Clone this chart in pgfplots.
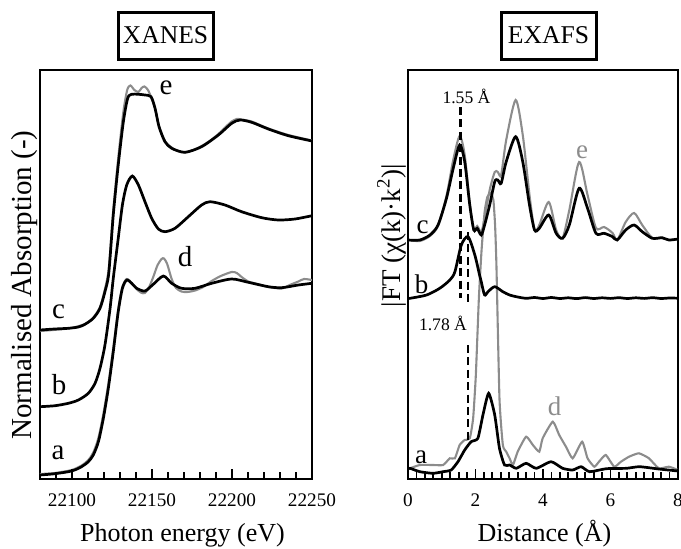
\documentclass[border=0pt]{standalone}
\usepackage{pgfplots}
\pgfplotsset{compat=1.18}
\usepackage{fontspec}
\setmainfont{Liberation Serif}
\definecolor{lg}{gray}{0.55}

\begin{document}
\begin{tikzpicture}
\useasboundingbox (0,0) rectangle (340.5pt,274pt);
\pgfplotsset{
 common/.style={
  scale only axis, height=204.5pt, anchor=south west,
  ymin=-479, ymax=-70, ytick=\empty,
  axis line style={line width=1.4pt},
  tick align=inside, xtick pos=left,
  major tick length=0pt, minor tick length=0pt,
  tick label style={font=\fontsize{9.6}{11}\selectfont},
  /pgf/number format/assume math mode=true,
  /pgf/number format/1000 sep={},
  scaled x ticks=false,
  xticklabel style={yshift=-3.8pt},
  unbounded coords=jump,
 },
 blk/.style={black, line width=1.35pt, smooth, tension=0.45, mark=none},
 gry/.style={lg, line width=1.05pt, smooth, tension=0.45, mark=none},
 tk/.style={black, line width=0.9pt, mark=none},
}

% ---------------- XANES ----------------
\begin{axis}[common, at={(20pt,34.5pt)}, width=136pt,
  xmin=22080, xmax=22250,
  xtick={22100,22150,22200,22250}]
% e (grey)
\addplot[gry] coordinates {
(22080,-331) (22097.7,-328.5) (22108.1,-324) (22113.3,-317.5) (22117.5,-307) (22120.6,-289)
(22123,-268) (22125.8,-210) (22128.9,-158) (22132.1,-112) (22134.5,-90) (22136.5,-85.5)
(22139,-90) (22141.5,-92) (22143.5,-88) (22145.3,-86.5) (22147.5,-90) (22149.4,-97)
(22151.9,-108.3) (22154.4,-126) (22158.1,-141) (22162.3,-147.5) (22166,-151) (22170.6,-152.5)
(22176,-150) (22181,-146) (22186,-141) (22191.5,-134) (22196,-127) (22199.8,-121.5)
(22203,-119) (22206,-119.5) (22212.3,-121.5) (22222.7,-128.5) (22235.2,-135) (22250,-140.5)};
% d (grey)
\addplot[gry] coordinates {
(22080,-474) (22089.4,-473) (22099.8,-470) (22106,-465.5) (22110.2,-460) (22113.3,-452.5)
(22116.5,-438) (22119.6,-414) (22122.7,-384) (22125.8,-348) (22128.9,-309) (22131.5,-287)
(22134.2,-279) (22137.3,-283) (22140.4,-289) (22143,-292.5) (22145.6,-293) (22148.5,-286)
(22151,-276) (22153.5,-265) (22156,-259) (22157.5,-258.5) (22159.5,-264) (22162.3,-279)
(22165,-288) (22168.5,-291.5) (22172,-292) (22176.9,-290.5) (22182,-287) (22187.3,-281)
(22193,-276) (22199.8,-272) (22203,-273) (22206,-277) (22210.2,-281.5) (22216,-284)
(22222.7,-287) (22231,-288.5) (22236,-285) (22241.5,-281.5) (22245,-279) (22250,-280)};
% c
\addplot[blk] coordinates {
(22080,-330) (22089,-329) (22097.7,-328.3) (22104,-327) (22108.1,-324.3) (22113.3,-318.3)
(22117.5,-308.3) (22120.6,-291.7) (22123,-273) (22125.8,-215) (22128.9,-165) (22132.1,-121.7)
(22134.8,-98.3) (22137.3,-94.3) (22141.5,-94.3) (22145.6,-95) (22149.4,-96.7) (22151.9,-108.3)
(22154.4,-126.7) (22158.1,-141.7) (22162.3,-148.3) (22170.6,-152.3) (22181,-146.7)
(22191.5,-135) (22199.8,-123.3) (22205,-120) (22212.3,-122.3) (22222.7,-129) (22235.2,-135.7)
(22250,-141)};
% b
\addplot[blk] coordinates {
(22080,-406.7) (22089.4,-405.7) (22097.7,-403.3) (22104,-400) (22110.2,-393.3) (22114.4,-383.3)
(22117.5,-368.3) (22120.6,-345) (22123.8,-308.3) (22125.8,-278.3) (22128.9,-238.3)
(22131.5,-205) (22134.2,-185) (22137.7,-176) (22141.5,-185) (22145.6,-201.7) (22149.8,-218.3)
(22154,-229) (22158.1,-231.7) (22164.4,-228.3) (22172.7,-216.7) (22181,-205) (22186.3,-201.7)
(22195.6,-205) (22206,-211.7) (22218.6,-217.7) (22229,-220) (22239.4,-219) (22250,-215.7)};
% a
\addplot[blk] coordinates {
(22080,-475) (22089.4,-473.7) (22099.8,-471) (22106,-466.7) (22110.2,-461.7) (22113.3,-455)
(22116.5,-441.7) (22119.6,-418.3) (22122.7,-388.3) (22125.8,-351.7) (22128.9,-311.7)
(22131.5,-288.3) (22134.2,-280) (22137.3,-283.3) (22140.4,-288.3) (22145.6,-291)
(22150.8,-284.3) (22157.1,-276) (22162.3,-283.3) (22168.5,-288.3) (22176.9,-288.3)
(22187.3,-283.3) (22199.8,-279) (22210.2,-282.3) (22222.7,-286.7) (22231,-287.7)
(22241.5,-285) (22250,-283.3)};
% tick marks along the bottom, pointing inwards
\addplot[tk] coordinates {
(22100,-479) (22100,-469) (22100,nan)
(22150,-479) (22150,-469) (22150,nan)
(22200,-479) (22200,-469) (22200,nan)
(22250,-479) (22250,-469) (22250,nan)
(22090,-479) (22090,-472.4) (22090,nan)
(22110,-479) (22110,-472.4) (22110,nan)
(22120,-479) (22120,-472.4) (22120,nan)
(22130,-479) (22130,-472.4) (22130,nan)
(22140,-479) (22140,-472.4) (22140,nan)
(22160,-479) (22160,-472.4) (22160,nan)
(22170,-479) (22170,-472.4) (22170,nan)
(22180,-479) (22180,-472.4) (22180,nan)
(22190,-479) (22190,-472.4) (22190,nan)
(22210,-479) (22210,-472.4) (22210,nan)
(22220,-479) (22220,-472.4) (22220,nan)
(22230,-479) (22230,-472.4) (22230,nan)
(22240,-479) (22240,-472.4)};
\end{axis}

% ---------------- EXAFS ----------------
\begin{axis}[common, at={(204pt,34.5pt)}, width=135pt,
  xmin=0, xmax=8,
  xtick={0,2,4,6,8}]
% e (grey)
\addplot[gry] coordinates {
(0,-240) (0.35,-241) (0.65,-236) (0.89,-226) (1.14,-196) (1.34,-160) (1.53,-136) (1.68,-155)
(1.83,-203) (1.95,-230) (2.05,-226) (2.17,-232) (2.27,-218) (2.42,-190) (2.57,-172) (2.66,-172)
(2.76,-175) (2.91,-140) (3.19,-100) (3.40,-135) (3.60,-195) (3.75,-230) (3.89,-225) (4.17,-202)
(4.39,-230) (4.58,-238) (4.78,-210) (5.07,-162) (5.32,-195) (5.57,-228) (5.81,-227) (6.06,-233)
(6.20,-240) (6.45,-222) (6.70,-213) (6.94,-225) (7.24,-238) (7.53,-238) (7.73,-240) (8,-239)};
% d (grey)
\addplot[gry, tension=0.3] coordinates {
(0.06,-468.3) (0.35,-465) (0.74,-465) (1.04,-465) (1.24,-458.3) (1.39,-458.3) (1.53,-445)
(1.68,-440) (1.83,-438.3) (1.93,-418.3) (2.01,-375) (2.10,-298.3) (2.18,-250) (2.27,-212)
(2.35,-197) (2.45,-193) (2.53,-200) (2.58,-225) (2.62,-265) (2.71,-398.3) (2.81,-445)
(2.91,-451.7) (3.01,-458.3) (3.11,-465) (3.25,-451.7) (3.50,-436.7) (3.70,-445) (3.89,-451.7)
(3.99,-438.3) (4.29,-421.7) (4.48,-435) (4.68,-446.7) (4.88,-458.3) (5.16,-441.7) (5.32,-458.3)
(5.52,-466.7) (5.66,-461.7) (5.86,-455) (6.11,-466.7) (6.31,-461.7) (6.55,-456.7) (6.84,-453.3)
(7.14,-458.3) (7.43,-468.3) (7.73,-466.7) (8,-470)};
% dashed guide lines
\addplot[black, line width=1.3pt, dash pattern=on 4pt off 2.2pt, mark=none] coordinates {(1.55,-107) (1.55,-298)};
\addplot[black, line width=1.3pt, dash pattern=on 4pt off 2.2pt, mark=none] coordinates {(1.78,-232) (1.78,-303)};
\addplot[black, line width=1.3pt, dash pattern=on 4pt off 2.2pt, mark=none] coordinates {(1.78,-345) (1.78,-447)};
% c
\addplot[blk] coordinates {
(0,-240) (0.35,-240) (0.65,-235) (0.89,-225) (1.14,-198.3) (1.34,-168.3) (1.53,-145) (1.68,-161.7)
(1.83,-205) (1.95,-230) (2.05,-228.3) (2.17,-235) (2.27,-225) (2.42,-205) (2.57,-181.7)
(2.66,-180) (2.76,-183.3) (2.91,-161.7) (3.19,-136.7) (3.40,-161.7) (3.60,-205) (3.75,-230)
(3.89,-228.3) (4.17,-215) (4.39,-233.3) (4.58,-238.3) (4.78,-225) (5.07,-188.3) (5.32,-208.3)
(5.57,-233.3) (5.81,-233.3) (6.06,-236.7) (6.20,-240) (6.45,-230) (6.70,-225) (6.94,-231.7)
(7.24,-238.3) (7.53,-237.7) (7.73,-240) (8,-239)};
% b
\addplot[blk] coordinates {
(0,-298.5) (0.06,-298.3) (0.55,-295) (0.94,-288.3) (1.24,-280) (1.39,-271.7) (1.58,-245)
(1.78,-236.7) (1.98,-255) (2.12,-275) (2.17,-281.7) (2.27,-295) (2.37,-291.7) (2.57,-286.7)
(2.81,-291.7) (3.01,-295) (3.25,-297) (3.50,-298.3) (3.75,-297.5) (4.0,-298.5) (4.25,-297.5)
(4.5,-298.5) (4.75,-297.8) (5.0,-298.6) (5.25,-297.6) (5.5,-298.5) (5.75,-297.8) (6.0,-298.4)
(6.25,-297.7) (6.5,-298.5) (6.75,-297.8) (7.0,-298.4) (7.25,-297.7) (7.5,-298.5) (7.75,-298) (8,-298.2)};
% a
\addplot[blk, tension=0.35] coordinates {
(0,-469) (0.06,-468.3) (0.35,-471.7) (0.74,-473.3) (1.04,-471.7) (1.28,-470) (1.48,-461.7)
(1.68,-450) (1.87,-441.7) (2.07,-438.3) (2.22,-415) (2.39,-393.3) (2.57,-415) (2.71,-448.3)
(2.86,-465) (3.01,-465) (3.21,-468.3) (3.50,-463.3) (3.80,-468.3) (4.24,-461.7) (4.58,-468.3)
(4.88,-470) (5.13,-466.7) (5.38,-471.7) (5.88,-468.7) (6.47,-468.3) (6.86,-466.7) (7.43,-469)
(8,-471)};
% tick marks along the bottom, pointing inwards
\addplot[tk] coordinates {
(0,-479) (0,-469) (0,nan)
(2,-479) (2,-469) (2,nan)
(4,-479) (4,-469) (4,nan)
(6,-479) (6,-469) (6,nan)
(8,-479) (8,-469) (8,nan)
(0.25,-479) (0.25,-472.4) (0.25,nan)
(0.5,-479) (0.5,-472.4) (0.5,nan)
(0.75,-479) (0.75,-472.4) (0.75,nan)
(1,-479) (1,-472.4) (1,nan)
(1.25,-479) (1.25,-472.4) (1.25,nan)
(1.5,-479) (1.5,-472.4) (1.5,nan)
(1.75,-479) (1.75,-472.4) (1.75,nan)
(2.25,-479) (2.25,-472.4) (2.25,nan)
(2.5,-479) (2.5,-472.4) (2.5,nan)
(2.75,-479) (2.75,-472.4) (2.75,nan)
(3,-479) (3,-472.4) (3,nan)
(3.25,-479) (3.25,-472.4) (3.25,nan)
(3.5,-479) (3.5,-472.4) (3.5,nan)
(3.75,-479) (3.75,-472.4) (3.75,nan)
(4.25,-479) (4.25,-472.4) (4.25,nan)
(4.5,-479) (4.5,-472.4) (4.5,nan)
(4.75,-479) (4.75,-472.4) (4.75,nan)
(5,-479) (5,-472.4) (5,nan)
(5.25,-479) (5.25,-472.4) (5.25,nan)
(5.5,-479) (5.5,-472.4) (5.5,nan)
(5.75,-479) (5.75,-472.4) (5.75,nan)
(6.25,-479) (6.25,-472.4) (6.25,nan)
(6.5,-479) (6.5,-472.4) (6.5,nan)
(6.75,-479) (6.75,-472.4) (6.75,nan)
(7,-479) (7,-472.4) (7,nan)
(7.25,-479) (7.25,-472.4) (7.25,nan)
(7.5,-479) (7.5,-472.4) (7.5,nan)
(7.75,-479) (7.75,-472.4)};
\end{axis}

% ---------------- titles and labels ----------------
\node[draw, line width=1.5pt, minimum width=47.5pt, minimum height=23.5pt, inner sep=0pt,
      font=\fontsize{12.8}{14}\selectfont] at (82.75pt,256.25pt) {XANES};
\node[draw, line width=1.5pt, minimum width=47.5pt, minimum height=23.5pt, inner sep=0pt,
      font=\fontsize{12.8}{14}\selectfont] at (274.25pt,256.25pt) {EXAFS};

\node[rotate=90, anchor=base, font=\fontsize{14.5}{16}\selectfont] at (16pt,131.5pt) {Normalised Absorption (-)};
\node[anchor=base, font=\fontsize{13}{15}\selectfont] at (91.25pt,3.2pt) {Photon energy (eV)};
\node[anchor=base, font=\fontsize{13}{15}\selectfont] at (272.25pt,3.2pt) {Distance (Å)};
\node[rotate=90, anchor=base, font=\fontsize{13.5}{15}\selectfont] at (200pt,156.25pt) {|FT (χ(k)·k\textsuperscript{2})|};

% curve letters, XANES
\begin{scope}[every node/.style={anchor=base, inner sep=0pt, font=\fontsize{14.5}{16}\selectfont}]
\node at (83pt,227pt) {e};
\node at (92.5pt,141pt) {d};
\node at (29.25pt,115pt) {c};
\node at (29.5pt,77pt) {b};
\node at (29pt,44.5pt) {a};
\end{scope}
% curve letters, EXAFS
\begin{scope}[every node/.style={anchor=base, inner sep=0pt, font=\fontsize{13.5}{15}\selectfont}]
\node at (211.25pt,157.5pt) {c};
\node[text=lg] at (291pt,195pt) {e};
\node at (210.75pt,127.5pt) {b};
\node at (210.5pt,42.5pt) {a};
\node[text=lg] at (277.25pt,66.5pt) {d};
\end{scope}
\node[anchor=base, inner sep=0pt, font=\fontsize{8.8}{10}\selectfont] at (233.25pt,222.5pt) {1.55 Å};
\node[anchor=base, inner sep=0pt, font=\fontsize{8.8}{10}\selectfont] at (221.5pt,109pt) {1.78 Å};
\end{tikzpicture}
\end{document}
